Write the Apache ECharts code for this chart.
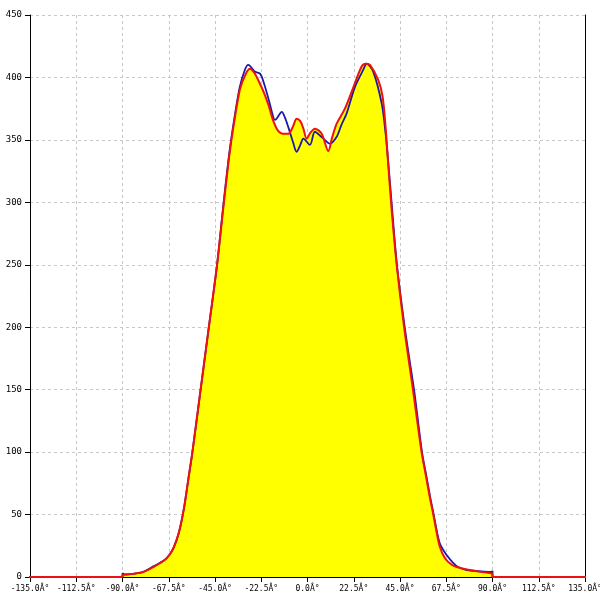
<!DOCTYPE html>
<html><head><meta charset="utf-8">
<script src="https://cdn.jsdelivr.net/npm/echarts@6/dist/echarts.min.js"></script>
<style>html,body{margin:0;padding:0;background:#fff}#c{width:600px;height:600px}</style>
</head><body><div id="c"></div>
<script>
// Angle (deg) / value pairs
const redSeries = [[-150,0],[-90,0],[-90,1.5],[-85,2.5],[-80,4],[-75,8],[-70,13],[-67.5,17],[-65,24],[-62.5,36],[-60,56],[-58,78],[-56,100],[-52,150],[-48,200],[-44,250],[-41,295],[-38,338],[-35.7,364],[-32.8,391],[-30,403],[-28,407],[-26,404],[-24,398],[-21.5,389],[-19,378],[-16.6,365],[-14.2,357],[-12,355],[-9.3,355],[-7,361],[-5.3,367],[-3.5,365],[-2,359],[-0.4,351],[1.5,356],[3.6,359],[6.9,355],[10.1,341],[12,352],[14.2,363],[18.2,375],[22.3,392],[26.4,409],[28.5,411],[30.4,410],[34.4,398],[36.5,385],[38,360],[39.3,330],[41,293],[43.4,250],[47,200],[51.3,150],[55.5,100],[57.5,82],[59.6,63],[61.2,50],[62.8,36],[64.4,24],[66.9,15],[70,10],[72.6,8],[80.6,5],[89.5,3],[90,2],[90,0],[145,0]];
const blueSeries = [[-90,0],[-90,3],[-89,2],[-85,2.5],[-80,4],[-75,8.5],[-70,13],[-67.5,17],[-65,24],[-62.5,36],[-60,56],[-58,78],[-56,100],[-52,150],[-48,200],[-44,250],[-41,297],[-38,340],[-35.7,366],[-33,392],[-30.5,406],[-28.8,410],[-25.5,404.5],[-23.1,403],[-21.5,397],[-19,383],[-16.6,368],[-15.8,366],[-12.5,372.5],[-11,368],[-9.3,360],[-7,348],[-5.3,340.5],[-3.5,346],[-2,351],[1.2,346],[3.6,356.5],[7,352],[10.9,347],[14.2,352.5],[16.5,362],[19,371],[23.1,392.5],[27.1,406],[28.8,411],[32,404.5],[36.1,379],[38,355],[40,318],[43.5,250],[47.3,200],[49.8,172],[52,148],[55.7,100],[57.7,82],[59.8,63],[61.4,50],[63,36],[64.6,26],[67.7,17.6],[70.5,12],[73.2,8],[77.4,5.6],[85,4.5],[89.5,4],[90,5],[90,0]];
const xMin = -135, xMax = 135, xStep = 22.5;
const yMin = 0, yMax = 450, yStep = 50;

const chart = echarts.init(document.getElementById('c'));
const font = '"DejaVu Sans Mono", monospace';
chart.setOption({
  animation: false,
  grid: {left: 30, right: 15, top: 15, bottom: 23, containLabel: false, outerBoundsMode: 'none'},
  xAxis: {
    type: 'value', min: xMin, max: xMax, interval: xStep,
    axisLine: {onZero: false, lineStyle: {color: '#000', width: 1}},
    axisTick: {show: true, length: 5, lineStyle: {color: '#000'}},
    axisLabel: {color: '#000', fontFamily: font, fontSize: 8, margin: 8, formatter: v => v.toFixed(1) + 'Â°'},
    splitLine: {show: true, lineStyle: {color: '#c8c8c8', type: [3, 3], width: 1}}
  },
  yAxis: [{
    type: 'value', min: yMin, max: yMax, interval: yStep,
    axisLine: {show: true, onZero: false, lineStyle: {color: '#000', width: 1}},
    axisTick: {show: true, length: 5, lineStyle: {color: '#000'}},
    axisLabel: {color: '#000', fontFamily: font, fontSize: 9, margin: 8},
    splitLine: {show: true, lineStyle: {color: '#c8c8c8', type: [3, 3], width: 1}}
  }, {
    type: 'value', min: yMin, max: yMax, interval: yStep, position: 'right',
    axisLine: {show: true, onZero: false, lineStyle: {color: '#000', width: 1}},
    axisTick: {show: false}, axisLabel: {show: false}, splitLine: {show: false}
  }],
  series: [
    {type: 'line', data: redSeries, symbol: 'none', smooth: 0.3, clip: true,
     lineStyle: {width: 0}, areaStyle: {color: '#ffff00', opacity: 1}, z: 1},
    {type: 'line', data: blueSeries, symbol: 'none', smooth: 0.3,
     lineStyle: {color: '#1a1aa6', width: 1.8}, z: 2},
    {type: 'line', data: redSeries, symbol: 'none', smooth: 0.3, clip: false,
     lineStyle: {color: '#ee1111', width: 2}, z: 3}
  ]
});
</script></body></html>
